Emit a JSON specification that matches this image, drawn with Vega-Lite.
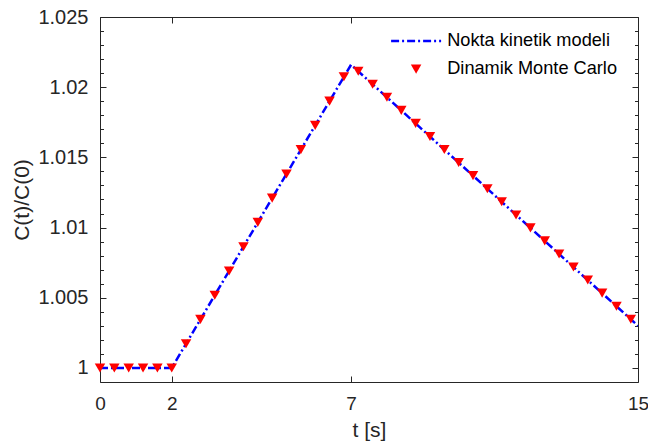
{
  "$schema": "https://vega.github.io/schema/vega-lite/v6.json",
  "width": 538,
  "height": 365,
  "autosize": {"type": "none"},
  "padding": {"left": 100, "top": 17, "right": 10, "bottom": 64},
  "background": "white",
  "config": {
    "view": {"stroke": "#262626", "strokeWidth": 1},
    "font": "Liberation Sans",
    "axis": {
      "domain": false,
      "grid": false,
      "labelFont": "Liberation Sans",
      "titleFont": "Liberation Sans",
      "labelColor": "#262626",
      "titleColor": "#262626",
      "tickColor": "#262626",
      "tickWidth": 1,
      "titleFontWeight": "normal",
      "labelFontSize": 20,
      "titleFontSize": 21,
      "labelOverlap": false,
      "labelFlush": false
    }
  },
  "datasets": {
    "model": [
      {"t": 0, "c": 1.0, "series": "Nokta kinetik modeli"},
      {"t": 2, "c": 1.0, "series": "Nokta kinetik modeli"},
      {"t": 7, "c": 1.0216, "series": "Nokta kinetik modeli"},
      {"t": 15, "c": 1.003, "series": "Nokta kinetik modeli"}
    ],
    "mc": [
      {"t": 0.0, "c": 1.0},
      {"t": 0.4, "c": 1.0},
      {"t": 0.8, "c": 1.0},
      {"t": 1.2, "c": 1.0},
      {"t": 1.6, "c": 1.0},
      {"t": 2.0, "c": 1.0},
      {"t": 2.4, "c": 1.00173},
      {"t": 2.8, "c": 1.00346},
      {"t": 3.2, "c": 1.00518},
      {"t": 3.6, "c": 1.00691},
      {"t": 4.0, "c": 1.00864},
      {"t": 4.4, "c": 1.01037},
      {"t": 4.8, "c": 1.0121},
      {"t": 5.2, "c": 1.01382},
      {"t": 5.6, "c": 1.01555},
      {"t": 6.0, "c": 1.01728},
      {"t": 6.4, "c": 1.01901},
      {"t": 6.8, "c": 1.02074},
      {"t": 7.2, "c": 1.02114},
      {"t": 7.6, "c": 1.02021},
      {"t": 8.0, "c": 1.01928},
      {"t": 8.4, "c": 1.01835},
      {"t": 8.8, "c": 1.01742},
      {"t": 9.2, "c": 1.01649},
      {"t": 9.6, "c": 1.01556},
      {"t": 10.0, "c": 1.01463},
      {"t": 10.4, "c": 1.0137},
      {"t": 10.8, "c": 1.01277},
      {"t": 11.2, "c": 1.01184},
      {"t": 11.6, "c": 1.0109},
      {"t": 12.0, "c": 1.00998},
      {"t": 12.4, "c": 1.00905},
      {"t": 12.8, "c": 1.00812},
      {"t": 13.2, "c": 1.00719},
      {"t": 13.6, "c": 1.00626},
      {"t": 14.0, "c": 1.00533},
      {"t": 14.4, "c": 1.0044},
      {"t": 14.8, "c": 1.00347}
    ]
  },
  "layer": [
    {
      "data": {"name": "model"},
      "mark": {"type": "line", "strokeWidth": 2.5, "strokeDash": [8, 3, 2, 3], "clip": true},
      "encoding": {
        "x": {
          "field": "t", "type": "quantitative",
          "scale": {"domain": [0, 15], "nice": false, "zero": false},
          "axis": {"orient": "bottom", "values": [0, 2, 7, 15], "format": "d", "title": "t [s]", "tickSize": -6, "labelPadding": 18, "titlePadding": 6, "labelFontSize": 19}
        },
        "y": {
          "field": "c", "type": "quantitative",
          "scale": {"domain": [0.999, 1.025], "nice": false, "zero": false},
          "axis": {
            "orient": "left",
            "values": [1, 1.001, 1.002, 1.003, 1.004, 1.005, 1.006, 1.007, 1.008, 1.009, 1.01, 1.011, 1.012, 1.013, 1.014, 1.015, 1.016, 1.017, 1.018, 1.019, 1.02, 1.021, 1.022, 1.023, 1.024, 1.025],
            "labelExpr": "round(datum.value*1000) % 5 === 0 ? format(datum.value, '~g') : ''",
            "tickSize": {"condition": {"test": "round(datum.value*1000) % 5 === 0", "value": -6}, "value": -3.5},
            "labelPadding": 18,
            "title": "C(t)/C(0)",
            "titlePadding": 5
          }
        },
        "color": {
          "field": "series", "type": "nominal",
          "scale": {"domain": ["Nokta kinetik modeli", "Dinamik Monte Carlo"], "range": ["#0000ff", "#ff0000"]},
          "legend": {
            "orient": "none", "legendX": 307, "legendY": 15, "title": null,
            "padding": 0, "symbolSize": 400, "symbolStrokeWidth": 2.5,
            "labelFontSize": 18.2, "labelFont": "Liberation Sans", "labelColor": "#000000",
            "labelLimit": 400,
            "labelOffset": 22, "rowPadding": 9,
            "encode": {
              "symbols": {
                "update": {
                  "shape": {"signal": "datum.value === 'Dinamik Monte Carlo' ? 'triangle-down' : 'stroke'"},
                  "size": {"signal": "datum.value === 'Dinamik Monte Carlo' ? 110 : 2500"},
                  "strokeDash": {"signal": "datum.value === 'Dinamik Monte Carlo' ? [1, 0] : [8, 3, 2, 3]"},
                  "fill": {"signal": "datum.value === 'Dinamik Monte Carlo' ? '#ff0000' : 'transparent'"},
                  "stroke": {"signal": "datum.value === 'Dinamik Monte Carlo' ? '#ff0000' : '#0000ff'"},
                  "strokeWidth": {"signal": "datum.value === 'Dinamik Monte Carlo' ? 0 : 2.5"},
                  "opacity": {"value": 1}
                }
              }
            }
          }
        }
      }
    },
    {
      "data": {"name": "mc"},
      "mark": {"type": "point", "shape": "triangle-down", "filled": true, "size": 110, "color": "#ff0000", "opacity": 1},
      "encoding": {
        "x": {
          "field": "t", "type": "quantitative",
          "axis": {"orient": "top", "values": [0, 2, 7, 15], "labels": false, "title": null, "tickSize": -6}
        },
        "y": {
          "field": "c", "type": "quantitative",
          "axis": {
            "orient": "right",
            "values": [1, 1.001, 1.002, 1.003, 1.004, 1.005, 1.006, 1.007, 1.008, 1.009, 1.01, 1.011, 1.012, 1.013, 1.014, 1.015, 1.016, 1.017, 1.018, 1.019, 1.02, 1.021, 1.022, 1.023, 1.024, 1.025],
            "labels": false, "title": null,
            "tickSize": {"condition": {"test": "round(datum.value*1000) % 5 === 0", "value": -6}, "value": -3.5}
          }
        }
      }
    }
  ],
  "resolve": {"axis": {"x": "independent", "y": "independent"}}
}
